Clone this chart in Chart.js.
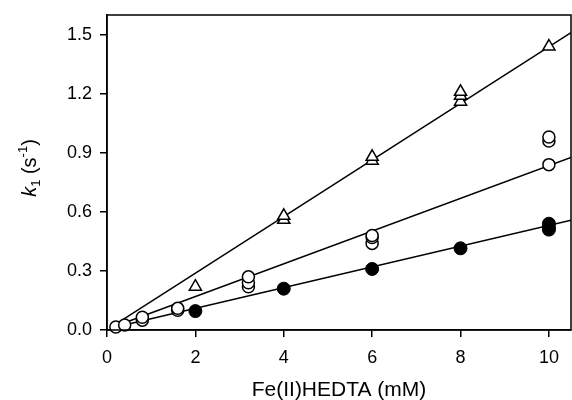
<!DOCTYPE html>
<html>
<head>
<meta charset="utf-8">
<script src="https://cdn.jsdelivr.net/npm/chart.js@4"></script>
<style>
  html, body { margin: 0; padding: 0; background: #fff; }
  #wrap { width: 572px; height: 400px; }
</style>
</head>
<body>
<div id="wrap"><canvas id="kChart" width="572" height="400"></canvas></div>
<script>
// data: x = Fe(II)HEDTA (mM), y = k1 (s-1)
const triX = [2, 4, 4, 6, 6, 8, 8, 8, 10];
const triY = [0.22, 0.56, 0.58, 0.86, 0.88, 1.16, 1.19, 1.21, 1.44];

const openX = [0.2, 0.4, 0.8, 0.8, 1.6, 1.6, 3.2, 3.2, 3.2, 6, 6, 6, 10, 10, 10];
const openY = [0.015, 0.025, 0.05, 0.065, 0.10, 0.11, 0.22, 0.24, 0.27, 0.44, 0.47, 0.48, 0.84, 0.96, 0.98];

const fillX = [2, 4, 6, 8, 10, 10, 10];
const fillY = [0.096, 0.21, 0.31, 0.415, 0.51, 0.52, 0.54];

// fitted lines, end points as read
const lineX = [0.2, 10.5];
const triLine = [0.03, 1.51];
const openLine = [0.02, 0.877];
const fillLine = [0.015, 0.557];

const xTicks = [0, 2, 4, 6, 8, 10];
const yTicks = [0, 0.3, 0.6, 0.9, 1.2, 1.5];

const pts = (xs, ys) => xs.map((x, i) => ({ x: x, y: ys[i] }));

const font = "'Liberation Sans', Arial, sans-serif";

// frame round the plot + y title with italic k, subscript and superscript
const framePlugin = {
  id: "frame",
  afterDatasetsDraw(chart) {
    const a = chart.chartArea;
    const c = chart.ctx;
    c.save();
    c.strokeStyle = "#000";
    c.lineWidth = 1.5;
    c.strokeRect(a.left, a.top, a.right - a.left, a.bottom - a.top);
    c.restore();
  },
  afterDraw(chart) {
    const c = chart.ctx;
    c.save();
    c.translate(29, 168);
    c.rotate(-Math.PI / 2);
    c.fillStyle = "#000";
    c.textBaseline = "alphabetic";
    const parts = [
      { t: "k", f: "italic 20px " + font, dy: 0 },
      { t: "1", f: "13px " + font, dy: 4 },
      { t: " (s", f: "20px " + font, dy: 0 },
      { t: "-1", f: "13px " + font, dy: -9 },
      { t: ")", f: "20px " + font, dy: 0 },
    ];
    let w = 0;
    parts.forEach((p) => { c.font = p.f; w += c.measureText(p.t).width; });
    let x = -w / 2;
    parts.forEach((p) => {
      c.font = p.f;
      c.fillText(p.t, x, 7 + p.dy);
      x += c.measureText(p.t).width;
    });
    c.restore();
  },
};

const noPad = (s) => {
  s.paddingLeft = 0;
  s.paddingRight = 0;
  s.paddingTop = 0;
  s.paddingBottom = 0;
};

new Chart(document.getElementById("kChart").getContext("2d"), {
  type: "scatter",
  data: {
    datasets: [
      {
        type: "line",
        data: pts(lineX, triLine),
        borderColor: "#000",
        borderWidth: 1.5,
        pointRadius: 0,
        order: 3,
      },
      {
        type: "line",
        data: pts(lineX, openLine),
        borderColor: "#000",
        borderWidth: 1.5,
        pointRadius: 0,
        order: 3,
      },
      {
        type: "line",
        data: pts(lineX, fillLine),
        borderColor: "#000",
        borderWidth: 1.5,
        pointRadius: 0,
        order: 3,
      },
      {
        label: "triangles",
        data: pts(triX, triY),
        pointStyle: "triangle",
        pointRadius: 7,
        pointBorderWidth: 1.5,
        borderColor: "#000",
        backgroundColor: "#fff",
        clip: false,
        order: 1,
      },
      {
        label: "open",
        data: pts(openX, openY),
        pointStyle: "circle",
        pointRadius: 6,
        pointBorderWidth: 1.5,
        borderColor: "#000",
        backgroundColor: "#fff",
        clip: false,
        order: 1,
      },
      {
        label: "filled",
        data: pts(fillX, fillY),
        pointStyle: "circle",
        pointRadius: 6.5,
        pointBorderWidth: 1,
        borderColor: "#000",
        backgroundColor: "#000",
        clip: false,
        order: 1,
      },
    ],
  },
  options: {
    responsive: false,
    animation: false,
    layout: { autoPadding: false, padding: { left: 0, right: 1, top: 15, bottom: 0 } },
    plugins: {
      legend: { display: false },
      tooltip: { enabled: false },
    },
    scales: {
      x: {
        type: "linear",
        min: 0,
        max: 10.5,
        afterBuildTicks: (s) => { s.ticks = xTicks.map((v) => ({ value: v })); },
        afterFit: (s) => { s.height = 70; noPad(s); },
        ticks: {
          color: "#000",
          font: { family: font, size: 18 },
          padding: 10,
          includeBounds: false,
        },
        grid: { display: true, drawOnChartArea: false, drawTicks: true, tickLength: 7, color: "#000", lineWidth: 1.5 },
        border: { display: true, color: "#000", width: 1.5 },
        title: {
          display: true,
          text: "Fe(II)HEDTA (mM)",
          color: "#000",
          font: { family: font, size: 21 },
          padding: { top: 0, bottom: -3 },
        },
      },
      y: {
        type: "linear",
        min: 0,
        max: 1.6,
        afterBuildTicks: (s) => { s.ticks = yTicks.map((v) => ({ value: v })); },
        afterFit: (s) => { s.width = 107; noPad(s); },
        ticks: {
          color: "#000",
          font: { family: font, size: 18 },
          padding: 8,
          includeBounds: false,
          callback: (v) => v.toFixed(1),
        },
        grid: { display: true, drawOnChartArea: false, drawTicks: true, tickLength: 7, color: "#000", lineWidth: 1.5 },
        border: { display: true, color: "#000", width: 1.5 },
      },
    },
  },
  plugins: [framePlugin],
});
</script>
</body>
</html>
